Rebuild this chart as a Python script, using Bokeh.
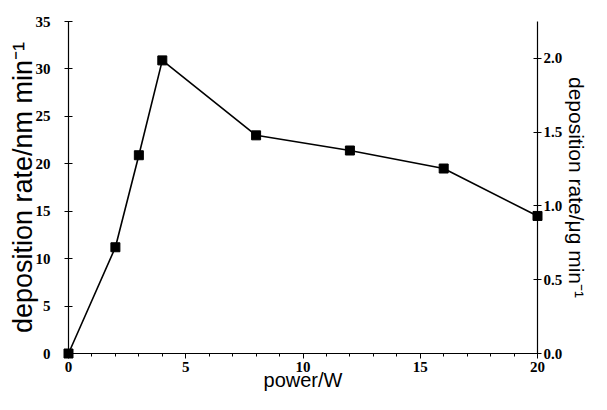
from bokeh.plotting import figure
from bokeh.models import Range1d, LinearAxis, FixedTicker, PrintfTickFormatter
from bokeh.embed import file_html
from bokeh.resources import INLINE

# data
power_w = [0, 2, 3, 4, 8, 12, 16, 20]
rate_nm_min = [0.0, 11.2, 20.9, 30.9, 23.0, 21.4, 19.5, 14.5]

x_ticks = [0, 5, 10, 15, 20]
x_minor = list(range(0, 21))
left_ticks = [0, 5, 10, 15, 20, 25, 30, 35]
right_ticks = [0.0, 0.5, 1.0, 1.5, 2.0]
right_max = 2.25

x_label = "power/W"
left_label = "deposition rate/nm min\u207b\u00b9"
right_label = "deposition rate/\u03bcg min\u207b\u00b9"

p = figure(width=591, height=394, output_backend="svg", toolbar_location=None,
           x_range=Range1d(0, 20), y_range=Range1d(0, 35),
           min_border_left=68, min_border_right=48, min_border_top=21, min_border_bottom=41)
p.extra_y_ranges = {"right": Range1d(0, right_max)}
p.grid.visible = False
p.outline_line_color = None
p.background_fill_color = "white"

p.line(power_w, rate_nm_min, line_color="black", line_width=1.6, level="overlay")
p.scatter(power_w, rate_nm_min, marker="square", size=9, fill_color="black",
          line_color="black", level="overlay")

tick_font = "Liberation Serif"
label_font = "Liberation Sans"

xa = p.xaxis[0]
xa.ticker = FixedTicker(ticks=x_ticks, minor_ticks=x_minor)
xa.axis_label = x_label
ya = p.yaxis[0]
ya.ticker = FixedTicker(ticks=left_ticks)
ya.axis_label = left_label

ra = LinearAxis(y_range_name="right", ticker=FixedTicker(ticks=right_ticks),
                formatter=PrintfTickFormatter(format="%.1f"), axis_label=right_label)
p.add_layout(ra, "right")

for ax in (xa, ya, ra):
    ax.axis_line_color = "black"
    ax.axis_line_width = 1.2
    ax.major_tick_line_color = "black"
    ax.major_tick_line_width = 1
    ax.major_label_text_font = tick_font
    ax.major_label_text_font_style = "bold"
    ax.major_label_text_font_size = "15px"
    ax.major_label_text_color = "black"
    ax.axis_label_text_font = label_font
    ax.axis_label_text_font_style = "normal"
    ax.axis_label_text_color = "black"

xa.axis_label_text_font_size = "20px"
ya.axis_label_text_font_size = "27px"
ra.axis_label_text_font_size = "21px"

xa.major_tick_in = 0
xa.major_tick_out = 5
xa.minor_tick_in = 0
xa.minor_tick_out = 3
xa.minor_tick_line_color = "black"
xa.major_label_standoff = 3
xa.axis_label_standoff = -6

for ax in (ya, ra):
    ax.major_tick_in = 4
    ax.major_tick_out = 4
    ax.minor_tick_line_color = None

ya.major_label_standoff = 14
ya.axis_label_standoff = -5
ra.major_label_standoff = 2
ra.axis_label_standoff = 0

open("out.html", "w").write(file_html(p, INLINE))
